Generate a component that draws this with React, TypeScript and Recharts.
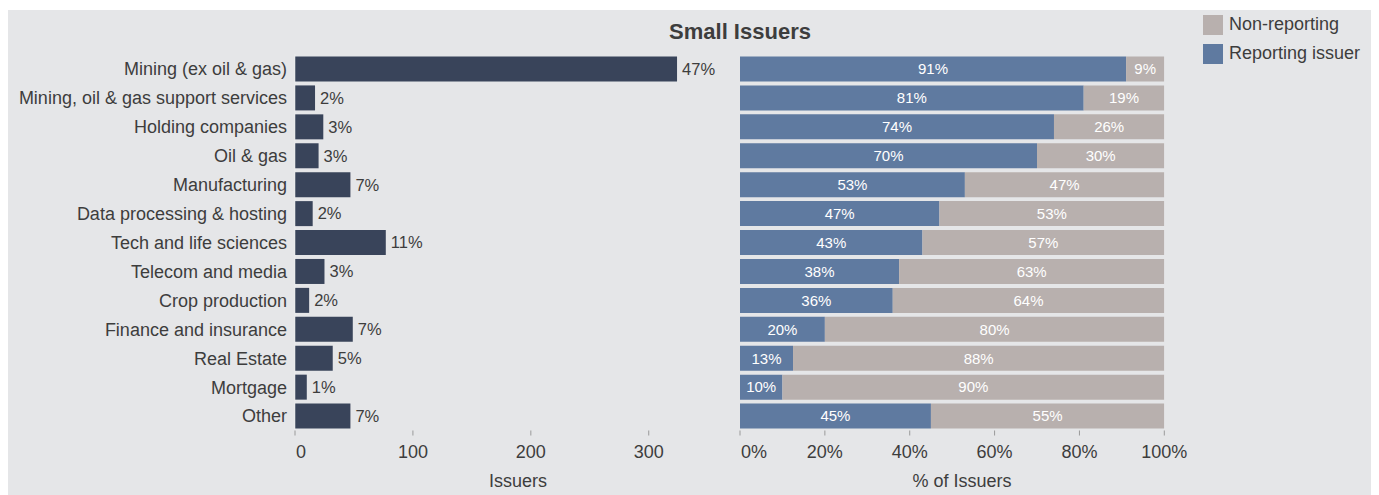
import { Bar, BarChart, LabelList, XAxis, YAxis } from "recharts";

const categories = [
  "Mining (ex oil & gas)",
  "Mining, oil & gas support services",
  "Holding companies",
  "Oil & gas",
  "Manufacturing",
  "Data processing & hosting",
  "Tech and life sciences",
  "Telecom and media",
  "Crop production",
  "Finance and insurance",
  "Real Estate",
  "Mortgage",
  "Other",
];

// number of issuers per sector
const issuerCounts = [324, 17, 24, 20, 47, 15, 77, 25, 12, 49, 32, 10, 47];
const issuerShareLabels = ["47%", "2%", "3%", "3%", "7%", "2%", "11%", "3%", "2%", "7%", "5%", "1%", "7%"];

// right panel, % of issuers
const reportingPct = [91, 81, 74, 70, 53, 47, 43, 37.5, 36, 20, 12.5, 10, 45];
const nonReportingPct = [9, 19, 26, 30, 47, 53, 57, 62.5, 64, 80, 87.5, 90, 55];

const countTicks = [0, 100, 200, 300];
const pctTicks = [0, 20, 40, 60, 80, 100];

const series = [
  { key: "nonReporting", name: "Non-reporting", color: "#b8b0ae" },
  { key: "reporting", name: "Reporting issuer", color: "#5f7aa0" },
];

const BG = "#e5e6e8";
const TEXT = "#3d3d3d";
const FONT = "'Liberation Sans', Arial, sans-serif";

// first tick label sits just right of its tick, the rest are centred
function AxisTick(props: any) {
  const { x, y, payload, suffix } = props;
  const first = payload.value === 0;
  return (
    <text
      x={first ? x + 1 : x}
      y={y}
      dy="0.71em"
      textAnchor={first ? "start" : "middle"}
      fill={TEXT}
      fontSize={18}
      fontFamily={FONT}
    >
      {`${payload.value}${suffix || ""}`}
    </text>
  );
}

export default function App() {
  const countData = categories.map((c, i) => ({
    category: c,
    count: issuerCounts[i],
    share: issuerShareLabels[i],
  }));
  const pctData = categories.map((c, i) => ({
    category: c,
    reporting: reportingPct[i],
    nonReporting: nonReportingPct[i],
  }));

  const tickStyle = { fill: TEXT, fontSize: 18, fontFamily: FONT };
  const axisTitle = {
    position: "absolute" as const,
    top: 461,
    width: 200,
    textAlign: "center" as const,
    fontSize: 18,
    lineHeight: "20px",
    color: TEXT,
  };

  return (
    <div
      style={{
        position: "relative",
        width: 1371,
        height: 485,
        marginTop: 2,
        background: BG,
        fontFamily: FONT,
      }}
    >
      <div
        style={{
          position: "absolute",
          left: 532,
          top: 10,
          width: 400,
          textAlign: "center",
          fontSize: 22,
          lineHeight: "24px",
          fontWeight: "bold",
          color: TEXT,
        }}
      >
        Small Issuers
      </div>

      <div style={{ position: "absolute", left: 1195, top: 0 }}>
        {series.map((s) => (
          <div
            key={s.key}
            style={{ display: "flex", alignItems: "center", height: 29, fontSize: 18, color: TEXT }}
          >
            <span style={{ width: 20, height: 20, background: s.color, marginRight: 6 }} />
            {s.name}
          </div>
        ))}
      </div>

      <div style={{ ...axisTitle, left: 510 - 100 }}>Issuers</div>
      <div style={{ ...axisTitle, left: 954 - 100 }}>% of Issuers</div>

      <div style={{ position: "absolute", left: 0, top: 0 }}>
        <BarChart
          width={720}
          height={485}
          data={countData}
          layout="vertical"
          margin={{ top: 44.5, right: 20.3, bottom: 0, left: 0 }}
        >
          <XAxis
            type="number"
            domain={[0, 350]}
            ticks={countTicks}
            axisLine={false}
            tickLine={{ stroke: "#9a9a9a" }}
            tickSize={5}
            tickMargin={10}
            tick={<AxisTick />}
            height={64.5}
          />
          <YAxis
            type="category"
            dataKey="category"
            width={287}
            axisLine={{ stroke: "#f4f4f4", strokeDasharray: "1 1" }}
            tickLine={false}
            tick={tickStyle}
            interval={0}
          />
          <Bar dataKey="count" fill="#39445a" barSize={25} isAnimationActive={false}>
            <LabelList
              dataKey="share"
              position="right"
              offset={5}
              fill={TEXT}
              fontSize={16.5}
              fontFamily={FONT}
            />
          </Bar>
        </BarChart>
      </div>

      <div style={{ position: "absolute", left: 720, top: 0 }}>
        <BarChart
          width={460}
          height={485}
          data={pctData}
          layout="vertical"
          margin={{ top: 44.5, right: 23.7, bottom: 0, left: 12 }}
        >
          <XAxis
            type="number"
            domain={[0, 100]}
            ticks={pctTicks}
            allowDataOverflow
            axisLine={false}
            tickLine={{ stroke: "#9a9a9a" }}
            tickSize={5}
            tickMargin={10}
            tick={<AxisTick suffix="%" />}
            height={64.5}
          />
          <YAxis type="category" dataKey="category" hide />
          <Bar
            dataKey="reporting"
            stackId="a"
            fill="#5f7aa0"
            barSize={25}
            isAnimationActive={false}
          >
            <LabelList
              dataKey="reporting"
              position="center"
              fill="#ffffff"
              fontSize={15}
              fontFamily={FONT}
              formatter={(v: number) => `${Math.round(v)}%`}
            />
          </Bar>
          <Bar
            dataKey="nonReporting"
            stackId="a"
            fill="#b8b0ae"
            barSize={25}
            isAnimationActive={false}
          >
            <LabelList
              dataKey="nonReporting"
              position="center"
              fill="#ffffff"
              fontSize={15}
              fontFamily={FONT}
              formatter={(v: number) => `${Math.round(v)}%`}
            />
          </Bar>
        </BarChart>
      </div>
    </div>
  );
}
